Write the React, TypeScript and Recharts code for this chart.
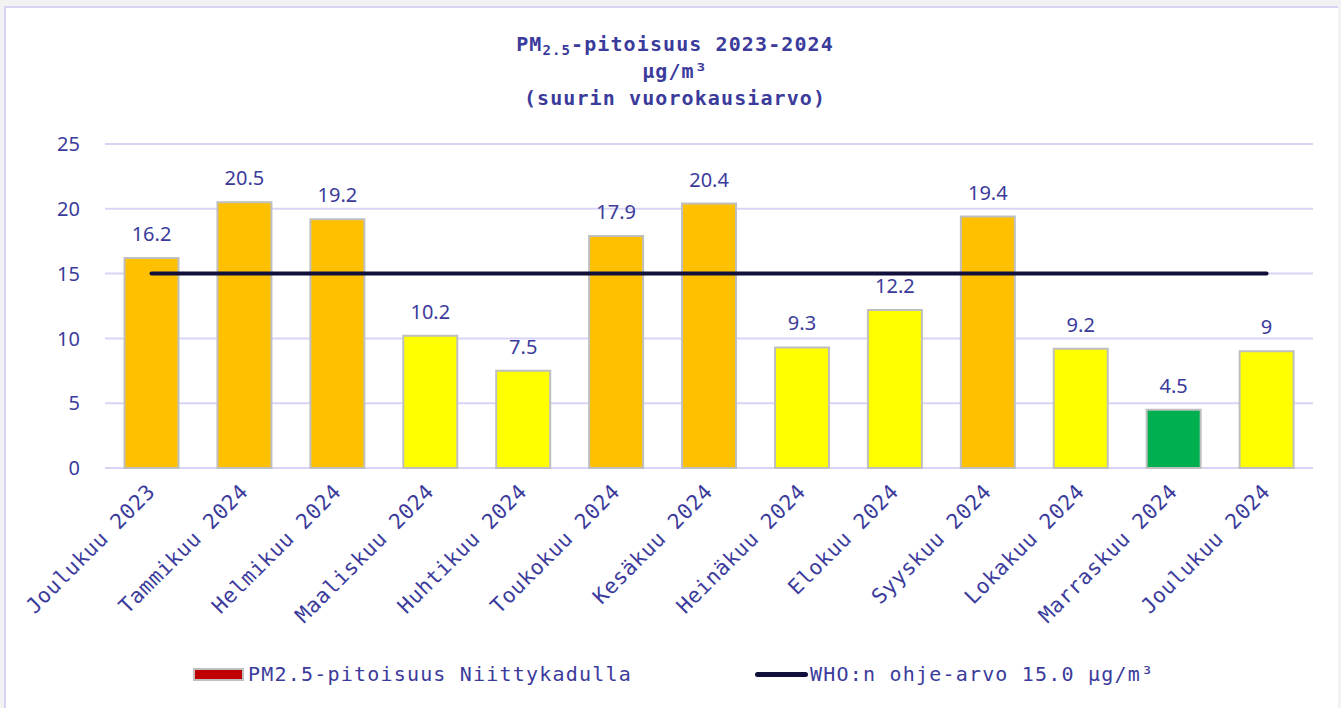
import {
  ComposedChart,
  Bar,
  Line,
  Cell,
  CartesianGrid,
  XAxis,
  YAxis,
  Legend,
  LabelList,
} from "recharts";

const months = [
  "Joulukuu 2023",
  "Tammikuu 2024",
  "Helmikuu 2024",
  "Maaliskuu 2024",
  "Huhtikuu 2024",
  "Toukokuu 2024",
  "Kesäkuu 2024",
  "Heinäkuu 2024",
  "Elokuu 2024",
  "Syyskuu 2024",
  "Lokakuu 2024",
  "Marraskuu 2024",
  "Joulukuu 2024",
];
const pm25 = [16.2, 20.5, 19.2, 10.2, 7.5, 17.9, 20.4, 9.3, 12.2, 19.4, 9.2, 4.5, 9];
const whoLimit = [15, 15, 15, 15, 15, 15, 15, 15, 15, 15, 15, 15, 15];
const yTicks = [0, 5, 10, 15, 20, 25];

const TEXT = "#3b3b9b";
const MONO = "'DejaVu Sans Mono', 'Liberation Mono', monospace";
const SANS = "'Noto Sans', 'Open Sans', sans-serif";

const rows = months.map((m, i) => ({ month: m, pm: pm25[i], who: whoLimit[i] }));

// väri raja-arvojen mukaan
const barColor = (v: number) => (v > 15 ? "#ffc000" : v >= 5 ? "#ffff00" : "#00b050");

const MonthTick = (props: any) => {
  const { x, y, payload } = props;
  return (
    <text
      x={x}
      y={y}
      transform={`rotate(-45, ${x}, ${y})`}
      textAnchor="end"
      dominantBaseline="central"
      fill={TEXT}
      fontFamily={MONO}
      fontSize={21}
      style={{ letterSpacing: "0.6px" }}
    >
      {payload.value}
    </text>
  );
};

const LegendBox = () => (
  <div
    style={{
      position: "relative",
      height: 40,
      fontFamily: MONO,
      fontSize: 20,
      letterSpacing: "1.2px",
      color: TEXT,
    }}
  >
    <div style={{ position: "absolute", left: 193, top: 14, display: "flex", alignItems: "center" }}>
      <span
        style={{
          width: 47,
          height: 9,
          background: "#c00000",
          border: "2px solid #bfbfbf",
          marginRight: 4,
        }}
      />
      <span>PM2.5-pitoisuus Niittykadulla</span>
    </div>
    <div style={{ position: "absolute", left: 755, top: 14, display: "flex", alignItems: "center" }}>
      <span
        style={{
          width: 53,
          height: 5,
          background: "#10103a",
          borderRadius: 3,
          marginRight: 2,
        }}
      />
      <span>WHO:n ohje-arvo 15.0 µg/m³</span>
    </div>
  </div>
);

export default function App() {
  return (
    <div
      style={{
        position: "absolute",
        left: 0,
        top: 0,
        width: 1341,
        height: 708,
        background: "#f2f2f2",
        overflow: "hidden",
      }}
    >
      <div
        style={{
          position: "absolute",
          left: 4,
          top: 6,
          width: 1332,
          height: 710,
          background: "#fff",
          borderTop: "2px solid #d9d4f5",
          borderLeft: "2px solid #d9d4f5",
        }}
      />
      <div
        style={{
          position: "absolute",
          left: 0,
          top: 31,
          width: 1350,
          textAlign: "center",
          fontFamily: MONO,
          fontWeight: "bold",
          fontSize: 20,
          letterSpacing: "1.1px",
          lineHeight: "27px",
          color: TEXT,
        }}
      >
        <div>
          PM<sub style={{ fontSize: 14, verticalAlign: "-4px", lineHeight: 0 }}>2.5</sub>-pitoisuus 2023-2024
        </div>
        <div>µg/m³</div>
        <div>(suurin vuorokausiarvo)</div>
      </div>
      <div style={{ position: "absolute", left: 0, top: 0 }}>
        <ComposedChart
          width={1341}
          height={708}
          data={rows}
          margin={{ top: 144, right: 28, left: 45, bottom: 20 }}
          barCategoryGap="21%"
        >
          <CartesianGrid vertical={false} stroke="#d9d4f5" strokeWidth={2} />
          <XAxis
            dataKey="month"
            interval={0}
            height={180}
            axisLine={false}
            tickLine={false}
            tickSize={0}
            tickMargin={20}
            tick={<MonthTick />}
          />
          <YAxis
            width={60}
            domain={[0, 25]}
            ticks={yTicks}
            axisLine={false}
            tickLine={false}
            tickSize={0}
            tickMargin={25}
            tick={{ fill: TEXT, fontFamily: SANS, fontSize: 20 }}
          />
          <Legend
            verticalAlign="bottom"
            content={() => <LegendBox />}
            wrapperStyle={{ left: 0, width: 1341 }}
          />
          <Bar dataKey="pm" stroke="#bfbfbf" strokeWidth={2} isAnimationActive={false}>
            {rows.map((r) => (
              <Cell key={r.month} fill={barColor(r.pm)} />
            ))}
            <LabelList
              dataKey="pm"
              position="top"
              offset={17}
              fill={TEXT}
              fontFamily={SANS}
              fontSize={20}
            />
          </Bar>
          <Line
            dataKey="who"
            stroke="#10103a"
            strokeWidth={4}
            strokeLinecap="round"
            dot={false}
            activeDot={false}
            isAnimationActive={false}
          />
        </ComposedChart>
      </div>
    </div>
  );
}
